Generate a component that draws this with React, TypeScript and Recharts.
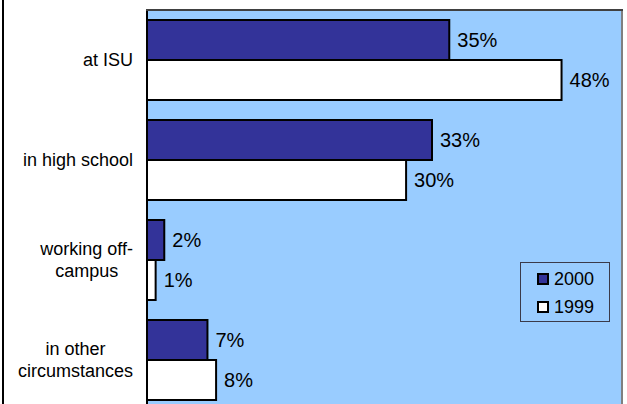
import {
  BarChart,
  Bar,
  XAxis,
  YAxis,
  CartesianGrid,
  LabelList,
  Legend,
  ReferenceLine,
} from 'recharts';

const categories = [
  'at ISU',
  'in high school',
  'working off-\ncampus',
  'in other\ncircumstances',
];
const values2000 = [35, 33, 2, 7];
const values1999 = [48, 30, 1, 8];
const seriesNames = ['2000', '1999'];
const xMax = 55;

const data = categories.map((name, i) => ({
  name,
  y2000: values2000[i],
  y1999: values1999[i],
}));

const FONT = '"Liberation Sans", Arial, sans-serif';
const COLORS = ['#333399', '#FFFFFF'];
const MARGIN = {top: 10, right: 5, left: 0, bottom: 0};
const AXIS_W = 147;

// category label: lines centred on each other, block right-aligned to the axis
const CategoryTick = (props: any) => {
  const {x, y, payload} = props;
  const lines: string[] = String(payload.value).split('\n');
  const h = lines.length * 22;
  return (
    <foreignObject x={0} y={y - h / 2} width={x} height={h}>
      <div
        style={{
          display: 'flex',
          justifyContent: 'flex-end',
          width: '100%',
          height: '100%',
        }}>
        <div
          style={{
            textAlign: 'center',
            fontFamily: FONT,
            fontSize: 18,
            lineHeight: '22px',
            color: '#000',
            whiteSpace: 'nowrap',
          }}>
          {lines.map((l, i) => (
            <div key={i}>{l}</div>
          ))}
        </div>
      </div>
    </foreignObject>
  );
};

const LegendBox = () => (
  <div
    style={{
      border: '1px solid #3a3a4a',
      background: '#99CCFF',
      width: 88,
      height: 56,
      boxSizing: 'content-box',
      fontFamily: FONT,
      fontSize: 18,
      paddingTop: 2,
    }}>
    {seriesNames.map((s, i) => (
      <div
        key={s}
        style={{
          display: 'flex',
          alignItems: 'center',
          height: 28,
          paddingLeft: 16,
        }}>
        <span
          style={{
            width: 8,
            height: 8,
            border: '2px solid #000',
            background: COLORS[i],
            marginRight: 5,
          }}
        />
        <span>{s}</span>
      </div>
    ))}
  </div>
);

export default function App() {
  return (
    <div
      style={{
        position: 'relative',
        width: 627,
        height: 404,
        overflow: 'hidden',
        background: '#fff',
      }}>
      <style>{'body{margin:0}'}</style>
      <div
        style={{
          position: 'absolute',
          left: 2,
          top: 0,
          width: 2,
          height: 404,
          background: '#000',
        }}
      />
      <BarChart
        width={627}
        height={410}
        layout="vertical"
        data={data}
        margin={MARGIN}
        barGap={0}
        barCategoryGap="10%">
        <CartesianGrid
          fill="#99CCFF"
          stroke="none"
          horizontal={false}
          vertical={false}
        />
        <XAxis type="number" domain={[0, xMax]} hide />
        <YAxis
          type="category"
          dataKey="name"
          width={AXIS_W}
          tickSize={0}
          tickMargin={14}
          tickLine={false}
          axisLine={{stroke: '#000', strokeWidth: 2}}
          tick={<CategoryTick />}
          interval={0}
        />
        <ReferenceLine x={xMax} stroke="#808080" strokeWidth={2} />
        <Legend
          layout="vertical"
          align="center"
          verticalAlign="middle"
          content={<LegendBox />}
          wrapperStyle={{left: 520, top: 262, width: 90, height: 58}}
        />
        <Bar
          dataKey="y2000"
          name={seriesNames[0]}
          fill={COLORS[0]}
          stroke="#000"
          strokeWidth={2}
          isAnimationActive={false}>
          <LabelList
            dataKey="y2000"
            position="right"
            offset={8}
            formatter={(v: any) => `${v}%`}
            fontSize={20}
            fontFamily={FONT}
            fill="#000"
          />
        </Bar>
        <Bar
          dataKey="y1999"
          name={seriesNames[1]}
          fill={COLORS[1]}
          stroke="#000"
          strokeWidth={2}
          isAnimationActive={false}>
          <LabelList
            dataKey="y1999"
            position="right"
            offset={8}
            formatter={(v: any) => `${v}%`}
            fontSize={20}
            fontFamily={FONT}
            fill="#000"
          />
        </Bar>
      </BarChart>
      {/* top edge of the plot frame */}
      <div
        style={{
          position: 'absolute',
          left: AXIS_W - 1,
          top: MARGIN.top - 1,
          width: 627 - AXIS_W - MARGIN.right + 2,
          height: 2,
          background: '#404040',
          pointerEvents: 'none',
        }}
      />
    </div>
  );
}
